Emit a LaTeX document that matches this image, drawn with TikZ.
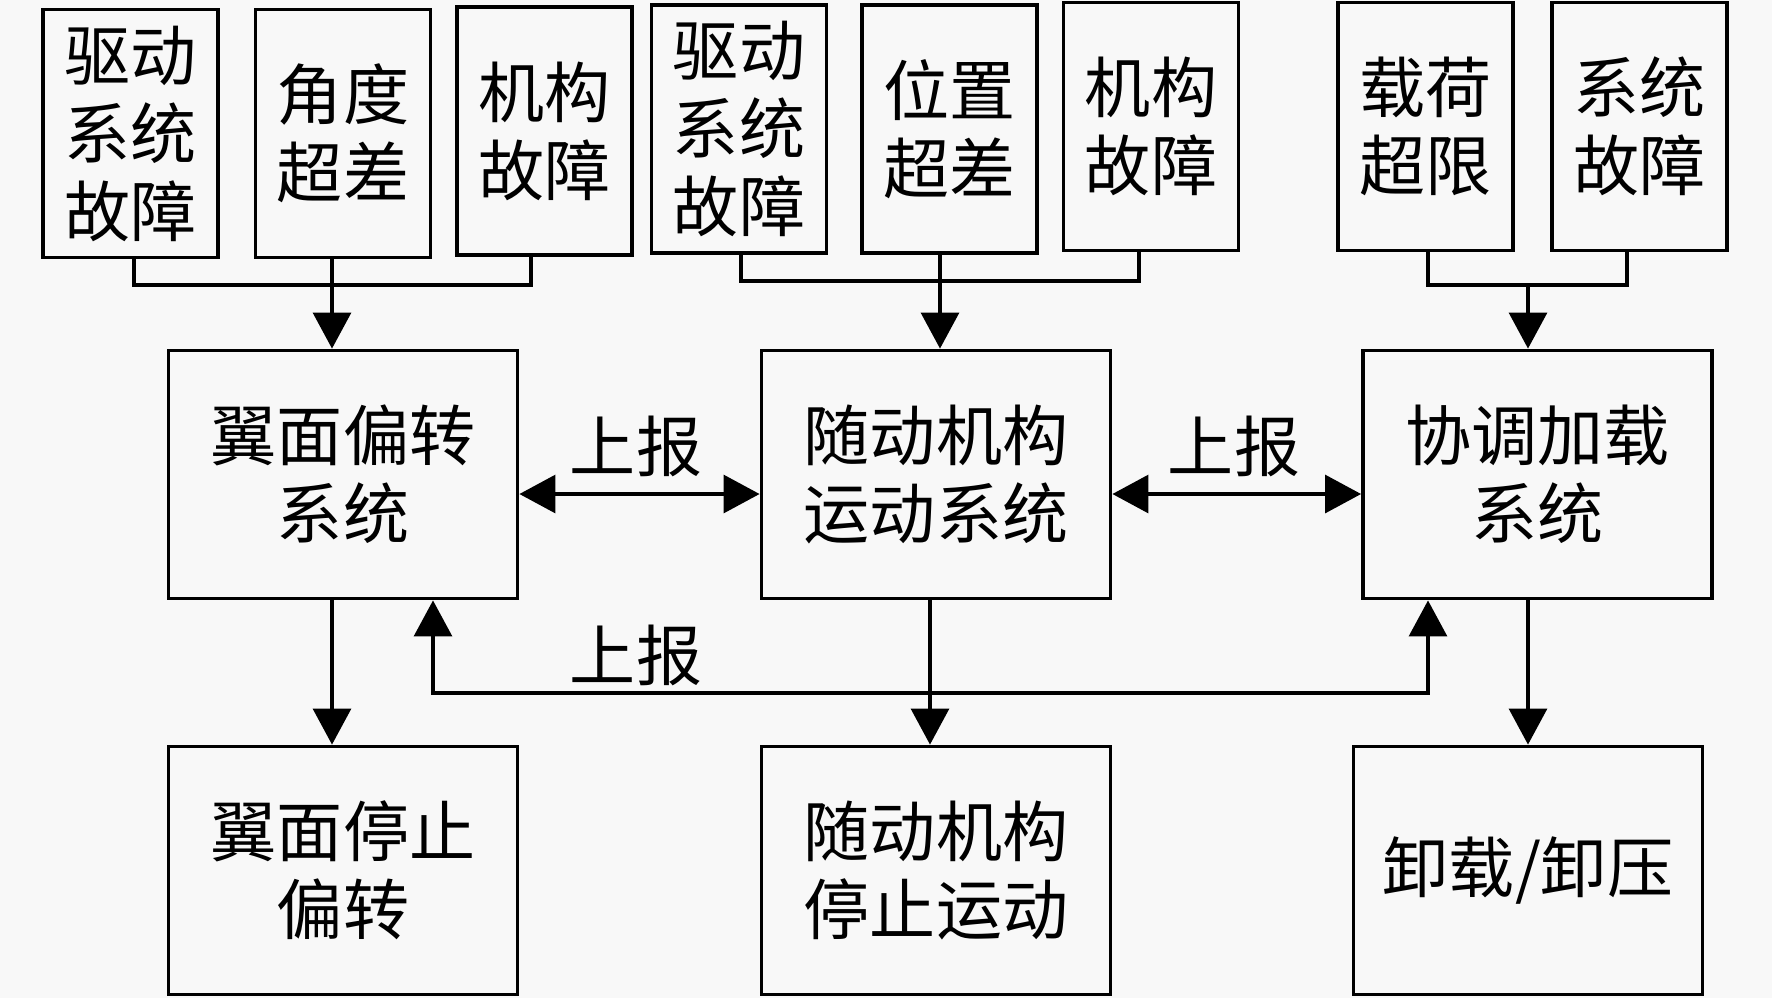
\documentclass[tikz,border=0pt]{standalone}
\usepackage{fontspec}
\newfontfamily\cjk{Noto Sans CJK SC}
\usetikzlibrary{arrows.meta}
\definecolor{paper}{RGB}{248,248,248}
\begin{document}
\begin{tikzpicture}[
        box/.style={draw, line width=1.1pt, minimum width=1.75cm, minimum height=2.48cm, inner sep=0pt, align=center, font=\cjk\fontsize{18.8}{22.2}\selectfont},
        sysbox/.style={box, minimum width=3.49cm},
        lbl/.style={inner sep=0pt, font=\cjk\fontsize{18.8}{22.2}\selectfont},
        link/.style={line width=0.9pt},
        arr/.style={link, -{Triangle[length=0.36cm, width=0.38cm]}},
        darr/.style={link, {Triangle[length=0.36cm, width=0.38cm]}-{Triangle[length=0.36cm, width=0.38cm]}}]
        \fill[paper] (0,0) rectangle (17.72,-9.98);

        % faults
        \node[box] (b1) at (1.305, -1.335) {驱动\\系统\\故障};
        \node[box] (b2) at (3.43, -1.335) {角度\\超差};
        \node[box] (b3) at (5.445, -1.31) {机构\\故障};
        \node[box] (b4) at (7.39, -1.29) {驱动\\系统\\故障};
        \node[box] (b5) at (9.495, -1.29) {位置\\超差};
        \node[box] (b6) at (11.51, -1.265) {机构\\故障};
        \node[box] (b7) at (14.255, -1.265) {载荷\\超限};
        \node[box] (b8) at (16.395, -1.265) {系统\\故障};

        % systems
        \node[sysbox] (m1) at (3.43, -4.745) {翼面偏转\\系统};
        \node[sysbox] (m2) at (9.36, -4.745) {随动机构\\运动系统};
        \node[sysbox] (m3) at (15.375, -4.745) {协调加载\\系统};

        % actions
        \node[sysbox] (l1) at (3.43, -8.705) {翼面停止\\偏转};
        \node[sysbox] (l2) at (9.36, -8.705) {随动机构\\停止运动};
        \node[sysbox] (l3) at (15.28, -8.705) {卸载/卸压};

        \coordinate (g1) at (3.32, -2.85);
        \coordinate (g1l) at (1.34, -2.85);
        \coordinate (g1r) at (5.31, -2.85);
        \coordinate (g2) at (9.40, -2.81);
        \coordinate (g2l) at (7.41, -2.81);
        \coordinate (g2r) at (11.39, -2.81);
        \coordinate (g3) at (15.28, -2.85);
        \coordinate (g3l) at (14.28, -2.85);
        \coordinate (g3r) at (16.27, -2.85);

        \draw[link] (b1.south -| g1l) -- (g1l) -- (g1r) -- (b3.south -| g1r);
        \draw[arr] (b2.south -| g1) -- (m1.north -| g1);
        \draw[link] (b4.south -| g2l) -- (g2l) -- (g2r) -- (b6.south -| g2r);
        \draw[arr] (b5.south -| g2) -- (m2.north -| g2);
        \draw[link] (b7.south -| g3l) -- (g3l) -- (g3r) -- (b8.south -| g3r);
        \draw[arr] (g3) -- (m3.north -| g3);

        % reports
        \coordinate (r1) at (6.40, -4.94);
        \draw[darr] (m1.east |- r1) -- (m2.west |- r1);
        \draw[darr] (m2.east |- r1) -- (m3.west |- r1);
        \node[lbl] (up1) at (6.36, -4.46) {上报};
        \node[lbl] (up2) at (12.34, -4.46) {上报};

        \coordinate (fb) at (9.30, -6.93);
        \coordinate (fbl) at (4.33, -6.93);
        \coordinate (fbr) at (14.28, -6.93);
        \draw[arr] (m2.south -| fb) -- (l2.north -| fb);
        \draw[arr] (fb) -- (fbl) -- (m1.south -| fbl);
        \draw[arr] (fb) -- (fbr) -- (m3.south -| fbr);
        \node[lbl] (up3) at (6.36, -6.55) {上报};

        % stops
        \draw[arr] (m1.south -| g1) -- (l1.north -| g1);
        \draw[arr] (m3.south -| g3) -- (l3.north -| g3);

    \end{tikzpicture}
\end{document}
